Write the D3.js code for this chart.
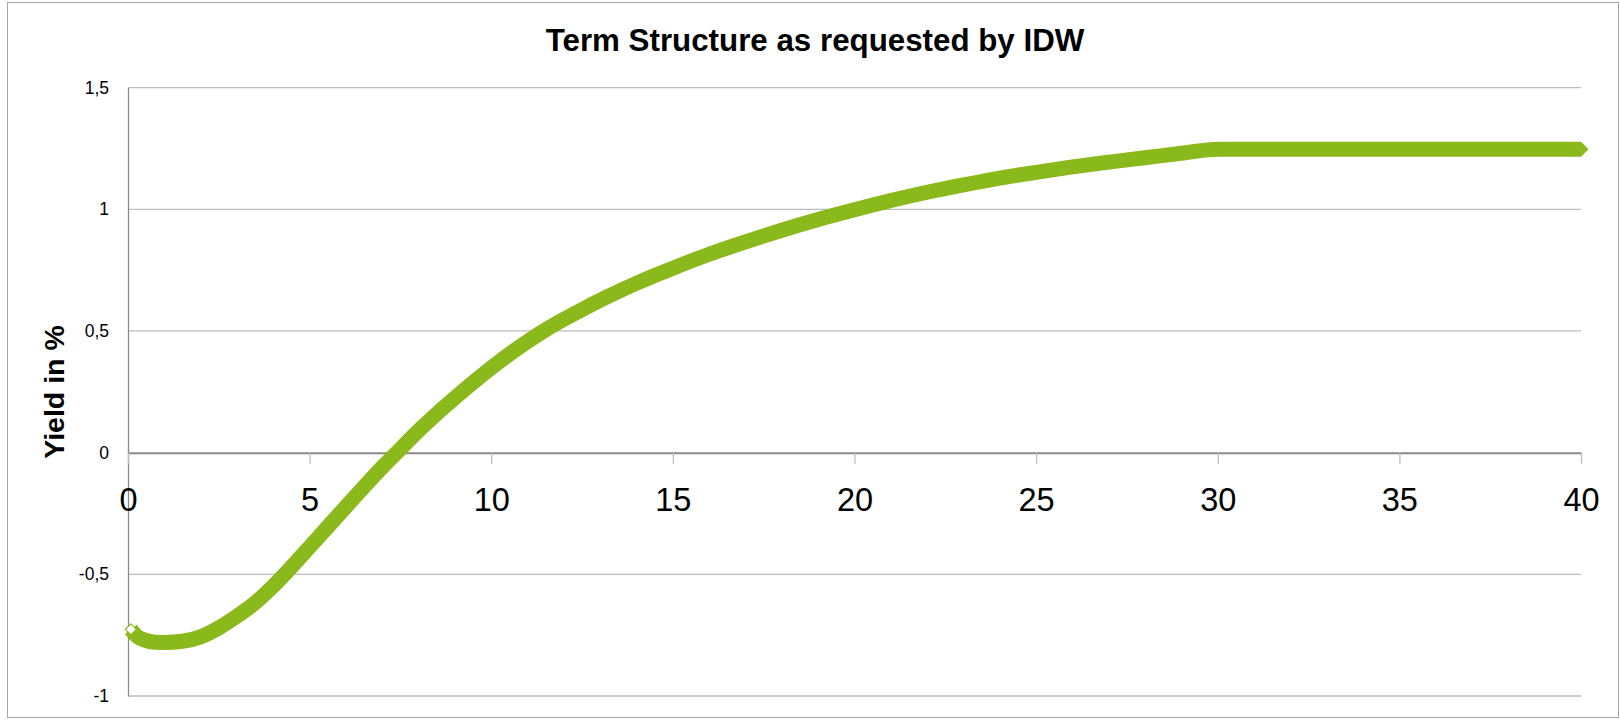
<!DOCTYPE html>
<html>
<head>
<meta charset="utf-8">
<script src="https://cdn.jsdelivr.net/npm/d3@7"></script>
<style>
  html, body { margin: 0; padding: 0; background: #ffffff; }
  svg { display: block; }
</style>
</head>
<body>
<svg id="chart" width="1620" height="720"></svg>
<script>
// ---- data ----
const maturities = [0.08, 0.25, 0.5, 0.75, 1, 1.5, 2, 2.5, 3, 3.5, 4, 4.5, 5, 5.5, 6, 6.5, 7, 7.5, 8, 8.5, 9, 9.5,
  10, 10.5, 11, 11.5, 12, 12.5, 13, 13.5, 14, 14.5, 15, 16, 17, 18, 19, 20, 21, 22, 23, 24, 25, 26, 27, 28, 29, 30,
  31, 32, 33, 34, 35, 36, 37, 38, 39, 40];
const yields = [-0.726, -0.755, -0.772, -0.779, -0.780, -0.775, -0.757, -0.720, -0.672, -0.617, -0.548, -0.470, -0.388, -0.305, -0.222, -0.140, -0.060, 0.015, 0.090, 0.160, 0.225, 0.288,
  0.348, 0.405, 0.457, 0.505, 0.548, 0.588, 0.626, 0.662, 0.696, 0.728, 0.758, 0.815, 0.866, 0.914, 0.958, 0.998, 1.036, 1.070, 1.100, 1.128, 1.152, 1.174, 1.194, 1.212, 1.230, 1.247,
  1.247, 1.247, 1.247, 1.247, 1.247, 1.247, 1.247, 1.247, 1.247, 1.247];
const xTicks = [0, 5, 10, 15, 20, 25, 30, 35, 40];
const yTicks = [-1, -0.5, 0, 0.5, 1, 1.5];
const yTickLabels = ["-1", "-0,5", "0", "0,5", "1", "1,5"];
const titleText = "Term Structure as requested by IDW";
const yAxisTitle = "Yield in %";

const data = maturities.map((m, i) => ({ x: m, y: yields[i] }));

// ---- layout ----
const svg = d3.select("#chart");
const plot = { left: 128, right: 1581, top: 87.6, bottom: 696 };
const green = "#8ab91b";
const gridColor = "#bdbdbd";
const axisColor = "#898989";
const markerHalf = 7.5;

const x = d3.scaleLinear().domain([0, 40]).range([plot.left, plot.right]);
const y = d3.scaleLinear().domain([-1, 1.5]).range([plot.bottom, plot.top]);

// chart border
svg.append("rect")
  .attr("x", 7.5).attr("y", 2.5)
  .attr("width", 1611).attr("height", 715)
  .attr("fill", "none").attr("stroke", "#a6a6a6").attr("stroke-width", 1);

// title
svg.append("text")
  .attr("x", 815).attr("y", 51)
  .attr("text-anchor", "middle")
  .attr("font-family", "'Liberation Sans', Arial, sans-serif")
  .attr("font-weight", "bold")
  .attr("font-size", 31.3)
  .attr("fill", "#000")
  .text(titleText);

// horizontal gridlines
svg.append("g").selectAll("line")
  .data(yTicks.filter(d => d !== 0))
  .join("line")
  .attr("x1", plot.left).attr("x2", plot.right)
  .attr("y1", d => y(d)).attr("y2", d => y(d))
  .attr("stroke", gridColor).attr("stroke-width", 1.3);

// y axis (left)
const yAxis = svg.append("g")
  .attr("transform", `translate(${plot.left},0)`)
  .call(d3.axisLeft(y).tickValues(yTicks).tickSize(0).tickPadding(19)
    .tickFormat((d, i) => yTickLabels[i]));
yAxis.select(".domain").attr("stroke", axisColor).attr("stroke-width", 1.3);
yAxis.selectAll("text")
  .attr("font-family", "'Liberation Sans', Arial, sans-serif")
  .attr("font-size", 17.5)
  .attr("fill", "#000");

// x axis at y = 0
const xAxis = svg.append("g")
  .attr("transform", `translate(0,${y(0)})`)
  .call(d3.axisBottom(x).tickValues(xTicks).tickSizeInner(11).tickSizeOuter(0).tickPadding(24.5)
    .tickFormat(d3.format("d")));
xAxis.select(".domain").attr("stroke", axisColor).attr("stroke-width", 2);
xAxis.selectAll(".tick line").attr("stroke", gridColor).attr("stroke-width", 1.3);
xAxis.selectAll("text")
  .attr("font-family", "'Liberation Sans', Arial, sans-serif")
  .attr("font-size", 32.5)
  .attr("fill", "#000");

// y axis title
svg.append("text")
  .attr("transform", `translate(64,392) rotate(-90)`)
  .attr("text-anchor", "middle")
  .attr("font-family", "'Liberation Sans', Arial, sans-serif")
  .attr("font-weight", "bold")
  .attr("font-size", 28.5)
  .attr("fill", "#000")
  .text(yAxisTitle);

// series: densely packed markers read as a thick band
const line = d3.line()
  .x(d => x(d.x))
  .y(d => y(d.y))
  .curve(d3.curveMonotoneX);

svg.append("path")
  .datum(data)
  .attr("d", line)
  .attr("fill", "none")
  .attr("stroke", green)
  .attr("stroke-width", markerHalf * 2)
  .attr("stroke-linecap", "butt")
  .attr("stroke-linejoin", "round");

const diamond = (cx, cy, h) => `M${cx},${cy - h}L${cx + h},${cy}L${cx},${cy + h}L${cx - h},${cy}Z`;

// last marker (pointed end of the band)
svg.append("path")
  .datum(data[data.length - 1])
  .attr("d", d => diamond(x(d.x), y(d.y), markerHalf))
  .attr("fill", green);

// first point: hollow marker
svg.append("path")
  .datum(data[0])
  .attr("d", d => diamond(x(d.x), y(d.y), 5.5))
  .attr("fill", "#ffffff")
  .attr("stroke", green)
  .attr("stroke-width", 1.2);
</script>
</body>
</html>
